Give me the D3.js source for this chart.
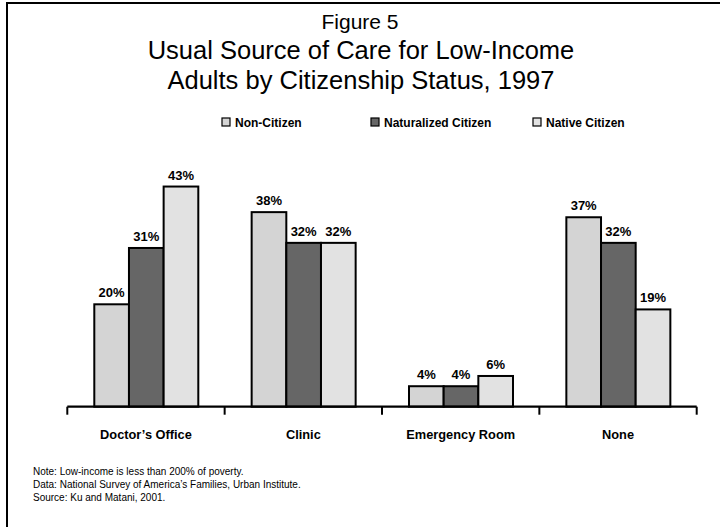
<!DOCTYPE html>
<html><head><meta charset="utf-8">
<script src="https://cdn.jsdelivr.net/npm/d3@7"></script>
<style>body{margin:0;background:#fff}svg{display:block;font-family:Arial,"Liberation Sans",sans-serif}</style>
</head><body><svg id="c" width="720" height="527"></svg>
<script>
const categories = ["Doctor\u2019s Office", "Clinic", "Emergency Room", "None"];
const seriesNames = ["Non-Citizen", "Naturalized Citizen", "Native Citizen"];
const nonCitizen = [20, 38, 4, 37];
const naturalized = [31, 32, 4, 32];
const native = [43, 32, 6, 19];
const seriesColors = ["#d4d4d4", "#666666", "#e2e2e2"];
const titleLines = ["Figure 5", "Usual Source of Care for Low-Income", "Adults by Citizenship Status, 1997"];
const notes = ["Note: Low-income is less than 200% of poverty.",
  "Data: National Survey of America\u2019s Families, Urban Institute.",
  "Source: Ku and Matani, 2001."];

const seriesValues = [nonCitizen, naturalized, native];
const svg = d3.select("#c");
svg.append("rect").attr("width",720).attr("height",527).attr("fill","#fff");
// frame
svg.append("line").attr("x1",6).attr("x2",720).attr("y1",3).attr("y2",3).attr("stroke","#000").attr("stroke-width",2);
svg.append("line").attr("x1",7).attr("x2",7).attr("y1",2).attr("y2",527).attr("stroke","#000").attr("stroke-width",2);

// titles
svg.append("text").attr("x",360).attr("y",29).attr("text-anchor","middle").attr("font-size",21).text(titleLines[0]);
svg.append("text").attr("x",361).attr("y",59).attr("text-anchor","middle").attr("font-size",25.5).text(titleLines[1]);
svg.append("text").attr("x",361).attr("y",89).attr("text-anchor","middle").attr("font-size",25.5).text(titleLines[2]);

// legend
const legX = [222, 371, 533];
const leg = svg.append("g");
seriesNames.forEach((n,i)=>{
  const g = leg.append("g").attr("transform",`translate(${legX[i]},122)`);
  g.append("rect").attr("x",0).attr("y",-4).attr("width",8).attr("height",8).attr("fill",seriesColors[i]).attr("stroke","#000").attr("stroke-width",1.2);
  g.append("text").attr("x",13).attr("y",4.5).attr("font-size",12).attr("font-weight","bold").text(n);
});

const base = 406.7;
const x = d3.scaleBand().domain(categories).range([67.3, 696.7]).paddingInner(0).paddingOuter(0);
const x1 = d3.scaleBand().domain(seriesNames).range([27, 131]);
const y = d3.scaleLinear().domain([0, 50]).range([base, base - 256]);

const groups = svg.append("g").selectAll("g").data(categories).join("g")
  .attr("transform", d=>`translate(${x(d)},0)`);
groups.each(function(cat, ci){
  const g = d3.select(this);
  seriesNames.forEach((s, si)=>{
    const v = seriesValues[si][ci];
    g.append("rect").attr("x", x1(s)).attr("width", x1.bandwidth()).attr("y", y(v)).attr("height", base - y(v))
      .attr("fill", seriesColors[si]).attr("stroke","#000").attr("stroke-width",2);
    g.append("text").attr("x", x1(s) + x1.bandwidth()/2).attr("y", y(v) - 7).attr("text-anchor","middle")
      .attr("font-size",13).attr("font-weight","bold").text(v + "%");
  });
});

// axis
const axis = svg.append("g").attr("transform",`translate(0,${base})`)
  .call(d3.axisBottom(x).tickSize(0).tickPadding(23));
axis.select(".domain").attr("stroke","#000").attr("stroke-width",2.2).attr("d", `M${x.range()[0]},0H${x.range()[1]}`);
axis.selectAll(".tick text").attr("font-size",12.8).attr("font-weight","bold").attr("fill","#000").attr("font-family","Arial, Liberation Sans, sans-serif");
const bounds = categories.map(c=>x(c)).concat([x.range()[1]]);
axis.selectAll("line.bnd").data(bounds).join("line").attr("class","bnd")
  .attr("x1",d=>d).attr("x2",d=>d).attr("y1",0).attr("y2",8).attr("stroke","#000").attr("stroke-width",2);

// notes
notes.forEach((t,i)=>{
  svg.append("text").attr("x",33).attr("y",475 + i*13).attr("font-size",10).text(t);
});
</script></body></html>
